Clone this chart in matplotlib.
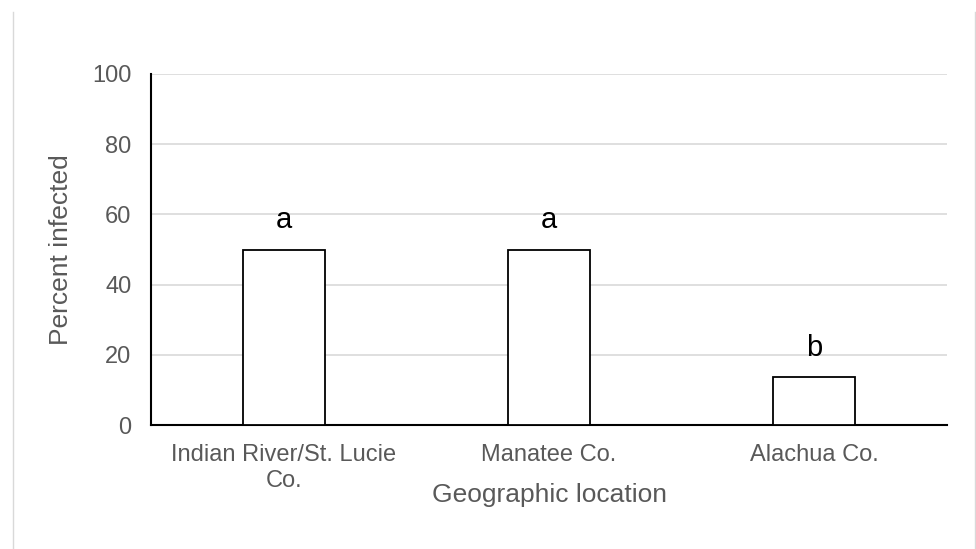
import matplotlib
matplotlib.use("Agg")
import matplotlib.pyplot as plt
from matplotlib.lines import Line2D

categories = ["Indian River/St. Lucie\nCo.", "Manatee Co.", "Alachua Co."]
values = [50, 50, 13.6]
letters = ["a", "a", "b"]
yticks = [0, 20, 40, 60, 80, 100]

plt.rcParams['font.family'] = ['Liberation Sans', 'DejaVu Sans']
fig = plt.figure(figsize=(9.76, 5.49), dpi=100)
W, H = 976, 549
ax = fig.add_axes([151/W, 1 - 425/H, (947-151)/W, (425-74)/H])

x = list(range(len(categories)))
ax.bar(x, values, width=0.31, color="white", edgecolor="black", linewidth=1.3, zorder=3)
for xi, v, l in zip(x, values, letters):
    ax.text(xi, v + 6, l, ha="center", va="baseline", fontsize=21, color="black")

ax.set_xlim(-0.5, 2.5)
ax.set_ylim(0, 100)
ax.set_yticks(yticks)
ax.set_xticks(x)
ax.set_xticklabels(categories, linespacing=1.2)
ax.tick_params(axis="both", length=0, colors="#595959", labelsize=17)
ax.tick_params(axis="x", pad=14)
ax.tick_params(axis="y", pad=14)
ax.grid(axis="y", color="#d9d9d9", linewidth=1.2, zorder=0)
for s in ["top", "right"]:
    ax.spines[s].set_visible(False)
for s in ["left", "bottom"]:
    ax.spines[s].set_color("black")
    ax.spines[s].set_linewidth(1.5)
ax.set_xlabel("Geographic location", fontsize=19, color="#595959")
ax.xaxis.set_label_coords(0.5, -0.165)
ax.set_ylabel("Percent infected", fontsize=19, color="#595959", labelpad=14)

fig.add_artist(Line2D([13/W, 13/W], [0, 1 - 12/H], color="#d9d9d9", linewidth=1, transform=fig.transFigure))
fig.add_artist(Line2D([975/W, 975/W], [0, 1 - 12/H], color="#d9d9d9", linewidth=1, transform=fig.transFigure))

fig.savefig("out.png", dpi=100)
